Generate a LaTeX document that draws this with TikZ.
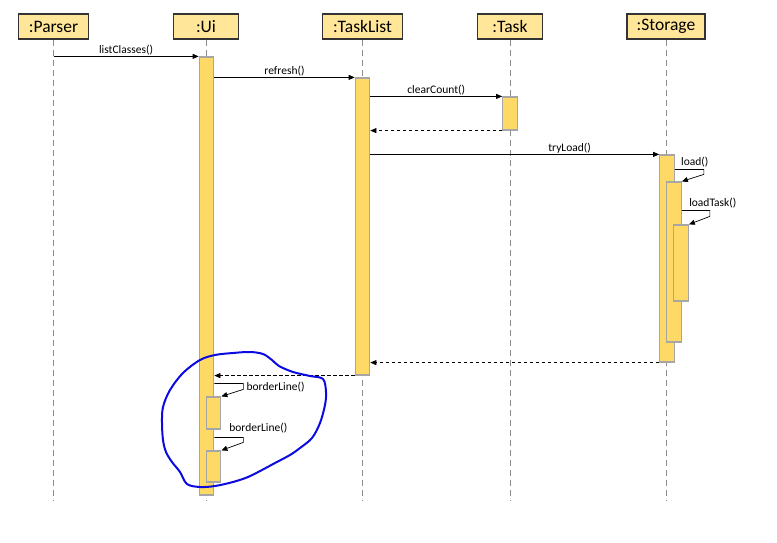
\documentclass[tikz,border=0pt]{standalone}
\usepackage{fontspec}
\setmainfont{Carlito}
\usetikzlibrary{arrows.meta,calc}
\definecolor{hdrfill}{HTML}{FFE699}
\definecolor{actfill}{HTML}{FFD966}
\definecolor{actline}{HTML}{A6A6A6}
\definecolor{llgray}{HTML}{8C8C8C}
\definecolor{pen}{RGB}{10,10,225}
\begin{document}
\begin{tikzpicture}[x=1pt,y=-1pt,
  actor/.style={draw=black!80,fill=hdrfill,line width=1.1pt,minimum height=25pt,inner sep=0pt,
    font=\fontsize{17.5}{20}\selectfont},
  act/.style={draw=actline,fill=actfill,line width=1.2pt,inner sep=0pt,minimum width=14.5pt},
  lifeline/.style={draw=llgray,line width=0.9pt,dash pattern=on 6pt off 4pt},
  msg/.style={draw=black,line width=0.7pt,-{Triangle[length=6pt,width=5pt]}},
  ret/.style={msg,dash pattern=on 3.5pt off 2.5pt},
  lbl/.style={font=\fontsize{11.5}{13}\selectfont,inner sep=1pt}]
\useasboundingbox (0,0) rectangle (777,543);
% headers
\node[actor,minimum width=70pt] (parser) at (53.5,26.5) {:Parser};
\node[actor,minimum width=65pt] (ui) at (206,26.5) {:Ui};
\node[actor,minimum width=80pt] (tasklist) at (362.5,26.5) {:TaskList};
\node[actor,minimum width=65pt] (task) at (510,26.5) {:Task};
\node[actor,minimum width=78pt] (storage) at (666,26.5) {:Storage};
% lifeline ends
\foreach \n in {parser,ui,tasklist,task,storage}{
  \coordinate (\n-end) at (\n.south |- 0,501);
  \draw[lifeline] (\n.south) -- (\n-end);
}
% activations
\node[act,minimum height=438pt] (uiA) at (206.5,276) {};
\node[act,minimum height=297pt] (tlA) at (362.5,226.5) {};
\node[act,minimum height=33pt] (taskA) at (510,113.5) {};
\node[act,minimum height=207pt] (stA) at (667,258.5) {};
\node[act,minimum height=160pt] (stB) at (674,262) {};
\node[act,minimum height=76pt] (stC) at (681,263) {};
\node[act,minimum height=32pt] (uiB) at (213.5,413) {};
\node[act,minimum height=31pt] (uiC) at (213.5,466.5) {};
% messages
\draw[msg] (parser |- uiA.north) -- node[lbl,above] {listClasses()} (uiA.north west);
\draw[msg] (uiA.east |- tlA.north) -- node[lbl,above] {refresh()} (tlA.north west);
\draw[msg] (tlA.east |- taskA.north) -- node[lbl,above] {clearCount()} (taskA.north west);
\draw[ret] (taskA.south west) -- (tlA.east |- taskA.south);
\draw[msg] (tlA.east |- stA.north) -- node[lbl,above,pos=0.69] {tryLoad()} (stA.north west);
% self calls in storage
\path ([yshift=-15pt]stA.north east) coordinate (ls);
\draw[msg] (ls) -- ++(29,0) coordinate (lc) -- ++(0,5) -- (stB.north east);
\node[lbl,anchor=south] at ($(lc)+(-9,-1)$) {load()};
\path ([yshift=-29pt]stB.north east) coordinate (lts);
\draw[msg] (lts) -- ++(28,0) coordinate (ltc) -- ++(0,6) -- (stC.north east);
\node[lbl,anchor=south] at ($(ltc)+(3,-1)$) {loadTask()};
% returns
\draw[ret] (stA.south west) -- (tlA.east |- stA.south);
\draw[ret] (tlA.south west) -- (uiA.east |- tlA.south);
% borderLine self calls
\path (uiA.east |- uiB.north) ++(0,-13) coordinate (b1s);
\draw[msg] (b1s) -- ++(29,0) coordinate (b1c) -- ++(0,6) -- (uiB.north east);
\node[lbl,anchor=west] at ($(b1c)+(2,4)$) {borderLine()};
\path (uiA.east |- uiC.north) ++(0,-13) coordinate (b2s);
\draw[msg] (b2s) -- ++(29,0) coordinate (b2c) -- ++(0,5) -- (uiC.north east);
\node[lbl,anchor=south] at ($(b2c)+(15,-3)$) {borderLine()};
% hand-drawn loop
\draw[pen,line width=2pt,line join=round] plot[smooth cycle,tension=0.55] coordinates {
 (200,360) (215,355) (233,353) (250,352) (263,354) (272,360) (279,366) (293,372) (310,376) (323,379)
 (326,392) (325,405) (320,423) (312,438) (300,448) (290,455) (275,463) (262,470) (248,477)
 (233,482) (215,486) (200,487) (187,484) (180,472) (172,462) (166,452) (163,440) (162,423)
 (163,407) (170,390) (183,373)};
\end{tikzpicture}
\end{document}
